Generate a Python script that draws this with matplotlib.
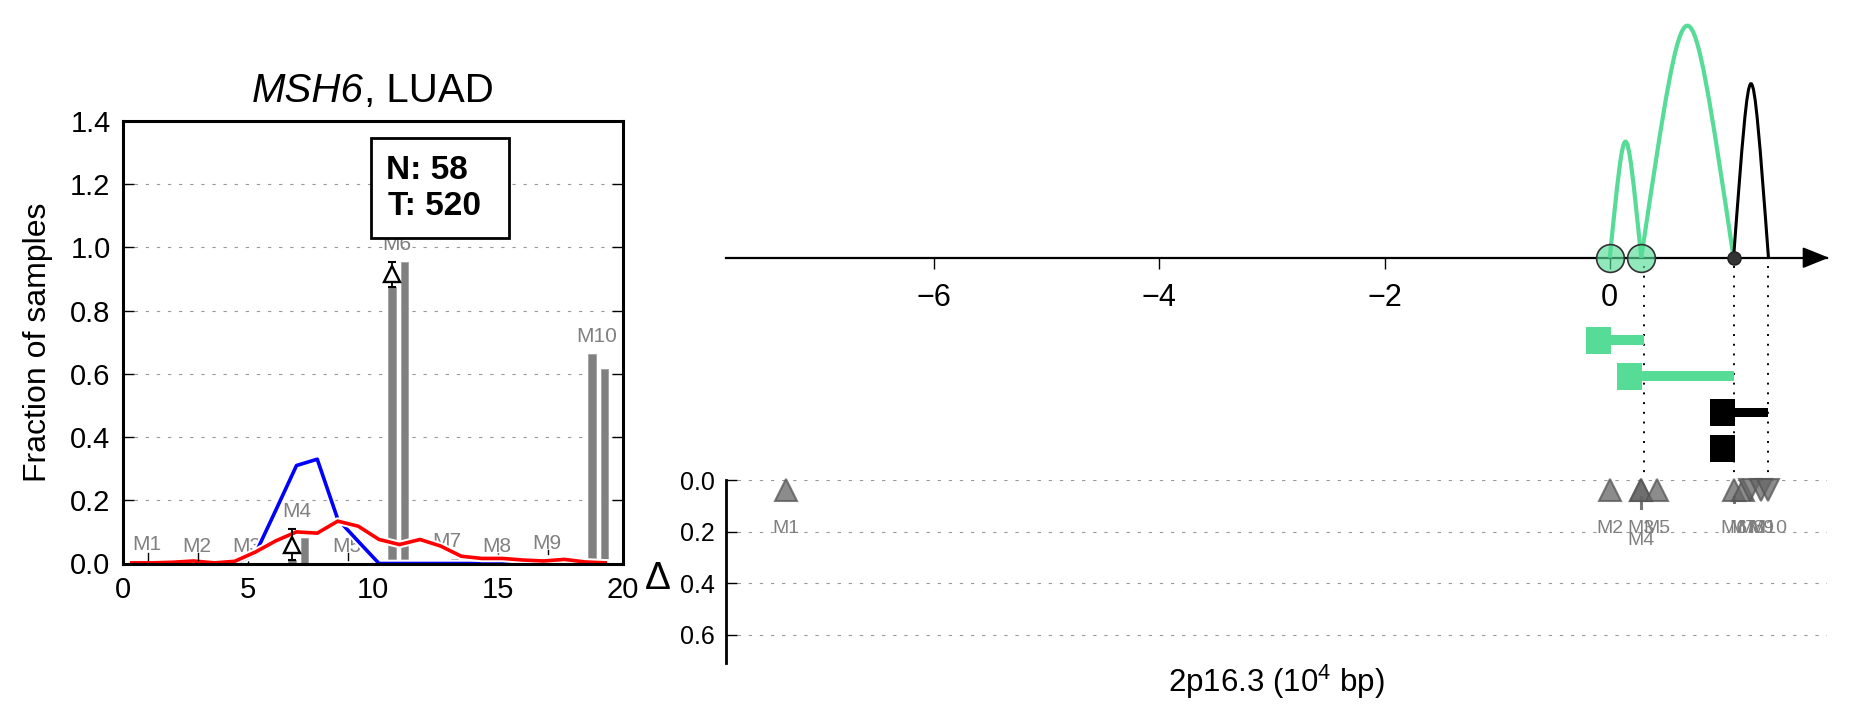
import matplotlib
matplotlib.use("Agg")
import matplotlib.pyplot as plt
import matplotlib.patheffects as pe
from matplotlib.path import Path
from matplotlib.patches import PathPatch, Rectangle, Polygon
import numpy as np

plt.rcParams['font.family'] = ['Liberation Sans', 'DejaVu Sans']
plt.rcParams['mathtext.fontset'] = 'custom'
plt.rcParams['mathtext.rm'] = 'Liberation Sans'
plt.rcParams['mathtext.it'] = 'Liberation Sans:italic'
plt.rcParams['mathtext.bf'] = 'Liberation Sans:bold'

# ---- left panel: motif fractions ----
gene = "MSH6"
cancer = "LUAD"
n_normal = 58
n_tumor = 520
motifs = ["M1", "M2", "M3", "M4", "M5", "M6", "M7", "M8", "M9", "M10"]
motif_x = np.array([1, 3, 5, 7, 9, 11, 13, 15, 17, 19])
normal_frac = np.array([0.004, 0.0, 0.0, 0.010, 0.0, 0.876, 0.004, 0.0, 0.004, 0.663])
tumor_frac = np.array([0.004, 0.0, 0.0, 0.080, 0.0, 0.953, 0.015, 0.0, 0.008, 0.616])

# delta markers (significant motifs) and their intervals
delta_motif = [3, 5]
delta_val = [0.060, 0.916]
delta_lo = [0.011, 0.876]
delta_hi = [0.109, 0.955]
# small intervals on the other motifs
ci_motif = [0, 1, 4, 8]
ci_lo = [0.012, 0.012, 0.012, 0.030]
ci_hi = [0.032, 0.032, 0.032, 0.042]

prof_x = [0.35, 1.17, 2.0, 2.82, 3.65, 4.47, 5.29, 6.12, 6.94, 7.77, 8.59, 9.41,
          10.24, 11.06, 11.88, 12.71, 13.53, 14.35, 15.18, 16.0, 16.82, 17.65, 18.47, 19.29]
normal_prof = [0, 0, 0, 0, 0, 0, 0.03, 0.17, 0.31, 0.33, 0.14, 0.07,
               0.0, 0, 0, 0, 0, 0, 0, 0, 0, 0, 0, 0]
tumor_prof = [0.002, 0.002, 0.004, 0.008, 0.002, 0.007, 0.036, 0.072, 0.100, 0.096, 0.134, 0.118,
              0.076, 0.060, 0.076, 0.055, 0.023, 0.016, 0.016, 0.011, 0.008, 0.013, 0.005, 0.002]

# ---- right panel: loops, segments, sites ----
loop_start = [0.0, 0.28, 1.10]
loop_end = [0.28, 1.10, 1.41]
loop_height = [2.0, 4.0, 3.0]
loop_group = [0, 0, 1]
anchor_green = [0.0, 0.28]
anchor_black = [1.10]

seg_start = [0.0, 0.28, 1.10, 1.10]
seg_end = [0.30, 1.10, 1.41, 1.10]
seg_group = [0, 0, 1, 1]
guide_x = [0.30, 1.10, 1.41]

site_names = ["M1", "M2", "M3", "M4", "M5", "M6", "M7", "M8", "M9", "M10"]
site_pos = [-7.32, 0.0, 0.28, 0.28, 0.42, 1.10, 1.18, 1.25, 1.34, 1.41]
site_sign = [1, 1, 1, 1, 1, 1, 1, -1, -1, -1]
site_err = [0, 0, 0, 0.045, 0, 0.02, 0, 0, 0, 0]

GREEN = "#56dc96"
group_color = [GREEN, "black"]

W, H = 1851, 718
fig = plt.figure(figsize=(W / 100, H / 100), dpi=100)


def rect(l, t, r, b):
    return [l / W, 1 - b / H, (r - l) / W, (b - t) / H]


# ================= left panel =================
ax = fig.add_axes(rect(123, 121, 623, 563.5))
ax.set_xlim(0, 20)
ax.set_ylim(0, 1.4)
ax.bar(motif_x - 0.25, normal_frac, width=0.3, color="#808080", edgecolor="#a0a0a0", lw=0.6, zorder=2)
ax.bar(motif_x + 0.25, tumor_frac, width=0.3, color="#808080", edgecolor="#a0a0a0", lw=0.6, zorder=2)

ax.plot(prof_x, normal_prof, color="blue", lw=2.6, zorder=3,
        path_effects=[pe.Stroke(linewidth=5.5, foreground="white"), pe.Normal()])
ax.plot(prof_x, tumor_prof, color="red", lw=2.6, zorder=4,
        path_effects=[pe.Stroke(linewidth=5.5, foreground="white"), pe.Normal()])

for i, v, lo, hi in zip(delta_motif, delta_val, delta_lo, delta_hi):
    x = motif_x[i] - 0.25
    ax.errorbar([x], [v], yerr=[[v - lo], [hi - v]], fmt="none", ecolor="black",
                elinewidth=1.3, capsize=3, capthick=1.5, zorder=5)
    ax.plot([x], [v], marker="^", ms=12, mfc="white", mec="black", mew=1.7, zorder=6)

for i, lo, hi in zip(ci_motif, ci_lo, ci_hi):
    ax.plot([motif_x[i], motif_x[i]], [lo, hi], color="black", lw=1.0, zorder=5)

top = np.maximum(normal_frac, tumor_frac)
for i, v, hi in zip(delta_motif, delta_val, delta_hi):
    top[i] = max(top[i], hi)
for name, x, t in zip(motifs, motif_x, top):
    ax.text(x - 0.05, t + 0.055, name, fontsize=15, color="gray", ha="center", va="center", zorder=2)

ax.add_patch(Rectangle((9.92, 1.031), 5.52, 0.316, fc="white", ec="black", lw=2, zorder=8))
ax.text(10.5, 1.242, f"N: {n_normal}", fontsize=24, fontweight="bold", ha="left", va="center", zorder=9)
ax.text(10.6, 1.131, f"T: {n_tumor}", fontsize=24, fontweight="bold", ha="left", va="center", zorder=9)

# title: italic gene name + plain cancer type
t1 = ax.text(0.5, 1.068, gene, style="italic", transform=ax.transAxes,
             fontsize=29, ha="left", va="center")
t2 = ax.annotate(", " + cancer, xy=(1, 0), xycoords=t1, fontsize=29, ha="left", va="bottom")

ax.set_ylabel("Fraction of samples", fontsize=23)
ax.yaxis.set_label_coords(-0.14, 0.5)
ax.set_xticks([0, 5, 10, 15, 20])
ax.set_yticks(np.arange(0, 1.41, 0.2))
ax.set_yticklabels([f"{v:.1f}" for v in np.arange(0, 1.41, 0.2)])
ax.tick_params(axis="both", direction="in", length=8, width=1, labelsize=21)
ax.tick_params(axis="y", right=True, pad=9)
ax.tick_params(axis="x", pad=9)
ax.yaxis.grid(True, ls=(0, (3, 7)), color="#999999", lw=0.8)
for s in ax.spines.values():
    s.set_linewidth(2.2)
    s.set_zorder(10)

# ================= right top panel =================
XL = (-7.85, 1.93)
unit = 58.0
ax2 = fig.add_axes(rect(726, 5, 1827, 475))
ax2.set_xlim(*XL)
ax2.set_ylim(-(475 - 257.7) / unit, (257.7 - 5) / unit)
for k in ["top", "left", "right"]:
    ax2.spines[k].set_visible(False)
ax2.spines["bottom"].set_position(("data", 0))
ax2.spines["bottom"].set_linewidth(1.6)
ax2.set_yticks([])
ax2.set_xticks([-6, -4, -2, 0])
ax2.tick_params(axis="x", direction="out", length=8, width=1, labelsize=22, pad=10)
ax2.patch.set_visible(False)

hh = 9.5 / unit
ax2.add_patch(Polygon([(1.72, -hh), (XL[1], 0), (1.72, hh)], closed=True, color="black",
                      clip_on=False, zorder=4))

for x0, x1, h, g in zip(loop_start, loop_end, loop_height, loop_group):
    xm = (x0 + x1) / 2
    verts = [(x0, 0), (xm, h / 0.75), (xm, h / 0.75), (x1, 0)]
    codes = [Path.MOVETO, Path.CURVE4, Path.CURVE4, Path.CURVE4]
    ax2.add_patch(PathPatch(Path(verts, codes), fill=False, ec=group_color[g],
                            lw=3.0 if g == 0 else 2.2, zorder=3, clip_on=False))

ax2.plot(anchor_green, [0] * len(anchor_green), "o", ms=20, mfc=(0.337, 0.863, 0.588, 0.65),
         mec="#333333", mew=1.2, zorder=5, clip_on=False)
ax2.plot(anchor_black, [0] * len(anchor_black), "o", ms=9.5, mfc="#333333", mec="#222222",
         zorder=5, clip_on=False)

for x in guide_x:
    ax2.plot([x, x], [-0.15, -3.72], color="black", lw=1.4, ls=(0, (1, 4)), zorder=1, clip_on=False)

sq_w, sq_h, ln_h = 25 / 112.8, 27 / unit, 9.5 / unit
for i, (s, e, g) in enumerate(zip(seg_start, seg_end, seg_group)):
    y = -1.42 - 0.623 * i
    c = group_color[g]
    ax2.add_patch(Rectangle((s - sq_w + 0.01, y - sq_h / 2), sq_w, sq_h, color=c, lw=0, zorder=4))
    if e > s:
        ax2.add_patch(Rectangle((s, y - ln_h / 2), e - s, ln_h, color=c, lw=0, zorder=4))

# ================= right bottom panel =================
ax3 = fig.add_axes(rect(726, 480, 1827, 663))
ax3.set_xlim(*XL)
ax3.set_ylim(0.71, 0.0)
for k in ["top", "right", "bottom"]:
    ax3.spines[k].set_visible(False)
ax3.spines["left"].set_linewidth(2)
ax3.set_xticks([])
ax3.set_yticks([0, 0.2, 0.4, 0.6])
ax3.set_yticklabels(["0.0", "0.2", "0.4", "0.6"])
ax3.tick_params(axis="y", direction="in", length=8, width=1, labelsize=18, pad=8)
ax3.yaxis.grid(True, ls=(0, (3, 7)), color="#999999", lw=0.8)
ax3.set_axisbelow(True)
ax3.patch.set_visible(False)

seen = {}
for name, x, sg, er in zip(site_names, site_pos, site_sign, site_err):
    ax3.plot([x], [0.037], marker="^" if sg > 0 else "v", ms=15.5, mfc="#666666", mec="#555555",
             mew=1.5, alpha=0.75, zorder=4, clip_on=False)
    if er > 0:
        ax3.plot([x, x], [0.065, 0.065 + er], color="#666666", lw=2.2, alpha=0.9, zorder=3)
    dup = seen.get(x, 0)
    seen[x] = dup + 1
    ax3.text(x, 0.19 + 0.045 * dup, name, fontsize=14, color="gray", ha="center", va="center", zorder=5)

ax3.set_ylabel("Δ", fontsize=28, rotation=0, ha="center", va="center")
ax3.yaxis.set_label_coords(-0.062, 0.46)
ax3.set_xlabel("2p16.3 (10$^4$ bp)", fontsize=22.5, va="center")
ax3.xaxis.set_label_coords(0.5, -0.105)

# centre the two-part title over the left axes
fig.canvas.draw()
r = fig.canvas.get_renderer()
w = t1.get_window_extent(r).width + t2.get_window_extent(r).width
axw = ax.get_window_extent(r).width
t1.set_x(0.5 - w / 2 / axw)

fig.savefig("out.png", dpi=100)
